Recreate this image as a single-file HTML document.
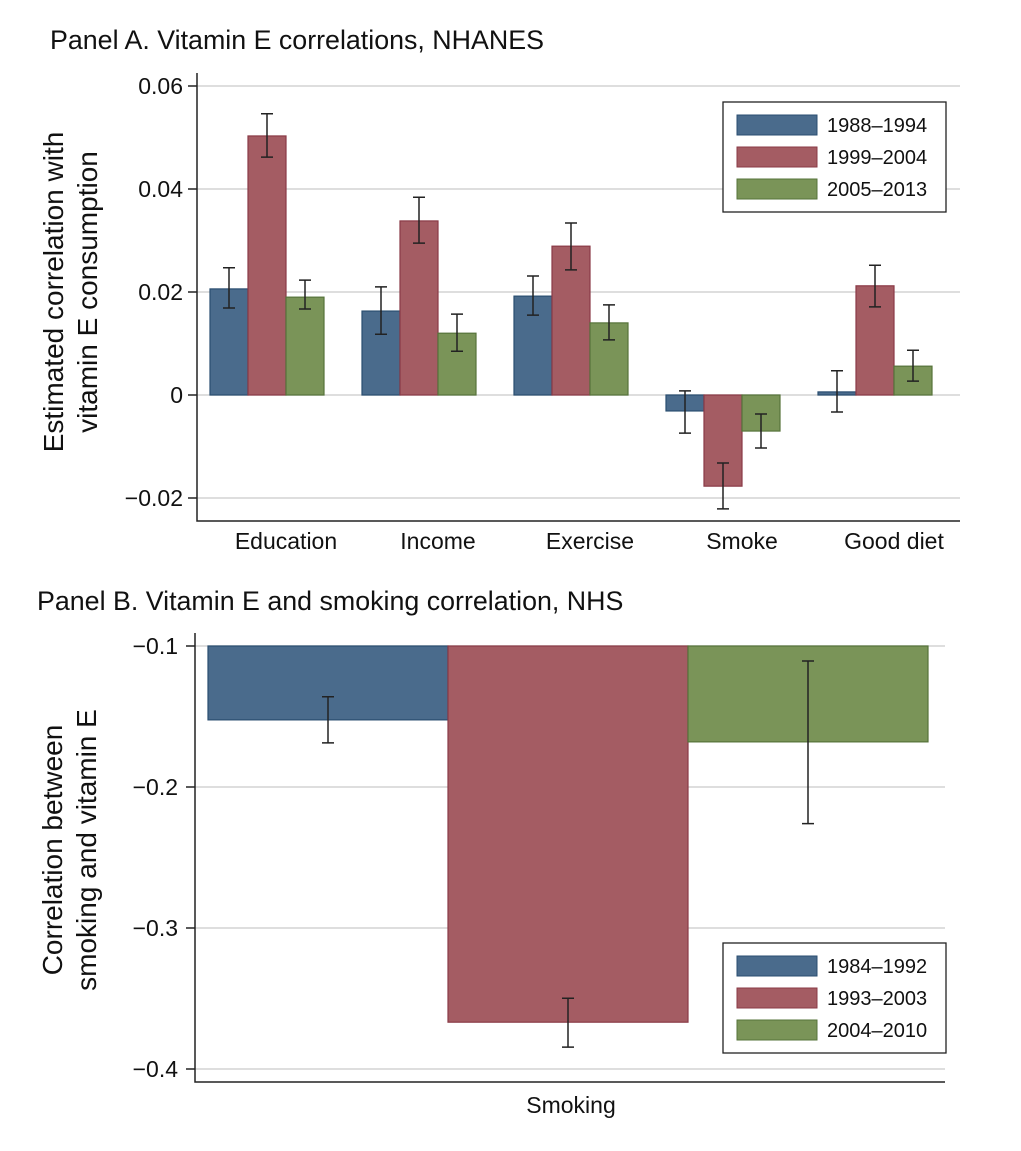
<!DOCTYPE html>
<html><head><meta charset="utf-8"><style>
body{margin:0;background:#fff}
svg text{font-family:"Liberation Sans",Arial,sans-serif;fill:#111}
</style></head><body>
<svg id="c" width="1021" height="1146" viewBox="0 0 1021 1146" xmlns="http://www.w3.org/2000/svg">
<text x="50" y="49" font-size="26.8">Panel A. Vitamin E correlations, NHANES</text>
<text x="37" y="610" font-size="26.8">Panel B. Vitamin E and smoking correlation, NHS</text>
<g id="ga"></g><g id="gb"></g>
</svg>
<script>
const catsA=["Education","Income","Exercise","Smoke","Good diet"];
const seriesA=["1988–1994","1999–2004","2005–2013"];
const valsA=[[0.0206,0.0163,0.0192,-0.0031,0.0006],[0.0503,0.0338,0.0289,-0.0177,0.0212],[0.0190,0.0120,0.0140,-0.0070,0.0056]];
const loA=[[0.0169,0.0118,0.0155,-0.0074,-0.0033],[0.0462,0.0295,0.0243,-0.0221,0.0171],[0.0167,0.0085,0.0107,-0.0103,0.0027]];
const hiA=[[0.0247,0.0210,0.0231,0.0008,0.0047],[0.0546,0.0384,0.0334,-0.0132,0.0252],[0.0223,0.0157,0.0175,-0.0037,0.0087]];
const ticksA=[0.06,0.04,0.02,0,-0.02];
const tickLabA=["0.06","0.04","0.02","0","−0.02"];
const seriesB=["1984–1992","1993–2003","2004–2010"];
const valsB=[-0.1524,-0.3668,-0.168];
const loB=[-0.1687,-0.3845,-0.226];
const hiB=[-0.136,-0.3498,-0.1106];
const ticksB=[-0.1,-0.2,-0.3,-0.4];
const tickLabB=["−0.1","−0.2","−0.3","−0.4"];
const fills=["#4a6b8c","#a45c63","#7a9458"], strokes=["#2a4e70","#8a3a46","#56733a"];
const NS="http://www.w3.org/2000/svg";
function mk(p,t,a,txt){const e=document.createElementNS(NS,t);for(const k in a)e.setAttribute(k,a[k]);if(txt!==undefined)e.textContent=txt;p.appendChild(e);return e;}
const ga=document.getElementById('ga');
const yA=v=>395-(v/0.02)*103;
ticksA.forEach((t,i)=>{
 let l=mk(ga,'line',{x1:197,x2:960,y1:yA(t),y2:yA(t),stroke:"#d4d4d4","stroke-width":1.5});
 
 let tk=mk(ga,'line',{x1:188,x2:197,y1:yA(t),y2:yA(t),stroke:"#222","stroke-width":1.5});
 
 let tx=mk(ga,'text',{x:183,y:yA(t)+8,"font-size":23,"text-anchor":"end"},tickLabA[i]);
 
});
catsA.forEach((c,ci)=>{
 const gx=210+ci*152;
 for(let s=0;s<3;s++){
  const x=gx+s*38,v=valsA[s][ci];
  let r=mk(ga,'rect',{x:x,y:Math.min(yA(v),yA(0)),width:38,height:Math.abs(yA(v)-yA(0)),fill:fills[s],stroke:strokes[s],"stroke-width":1.2});
  
  const cx=x+19;
  let e=mk(ga,'path',{d:`M${cx-6},${yA(hiA[s][ci])}H${cx+6}M${cx},${yA(hiA[s][ci])}V${yA(loA[s][ci])}M${cx-6},${yA(loA[s][ci])}H${cx+6}`,stroke:"#222","stroke-width":1.5,fill:"none"});
  
 }
 let t=mk(ga,'text',{x:gx+76,y:549,"font-size":23,"text-anchor":"middle"},c);
 
});
let ax=mk(ga,'path',{d:"M197,73V521H960",stroke:"#222","stroke-width":1.5,fill:"none"});

let yt=mk(ga,'text',{transform:"translate(63,292) rotate(-90)","font-size":28,"text-anchor":"middle"});

mk(yt,'tspan',{x:0,dy:0},"Estimated correlation with");mk(yt,'tspan',{x:0,dy:34},"vitamin E consumption");
function legend(g,x,y,labels,name){
 let b=mk(g,'rect',{x:x,y:y,width:223,height:110,fill:"#fff",stroke:"#222","stroke-width":1.3});
 
 labels.forEach((l,i)=>{
  let s=mk(g,'rect',{x:x+14,y:y+13+i*32,width:80,height:20,fill:fills[i],stroke:strokes[i]});
  
  let t=mk(g,'text',{x:x+104,y:y+30+i*32,"font-size":20},l);
  
 });
}
legend(ga,723,102,seriesA,'legend-a');
const gb=document.getElementById('gb');
const yB=v=>646+((-0.1-v)/0.1)*141;
ticksB.forEach((t,i)=>{
 let l=mk(gb,'line',{x1:195,x2:945,y1:yB(t),y2:yB(t),stroke:"#d4d4d4","stroke-width":1.5});
 
 let tk=mk(gb,'line',{x1:186,x2:195,y1:yB(t),y2:yB(t),stroke:"#222","stroke-width":1.5});
 
 let tx=mk(gb,'text',{x:178,y:yB(t)+8,"font-size":23,"text-anchor":"end"},tickLabB[i]);
 
});
valsB.forEach((v,s)=>{
 const x=208+s*240;
 let r=mk(gb,'rect',{x:x,y:yB(-0.1),width:240,height:yB(v)-yB(-0.1),fill:fills[s],stroke:strokes[s],"stroke-width":1.2});
 
 const cx=x+120;
 let e=mk(gb,'path',{d:`M${cx-6},${yB(hiB[s])}H${cx+6}M${cx},${yB(hiB[s])}V${yB(loB[s])}M${cx-6},${yB(loB[s])}H${cx+6}`,stroke:"#222","stroke-width":1.5,fill:"none"});
 
});
let bx=mk(gb,'path',{d:"M195,633V1082H945",stroke:"#222","stroke-width":1.5,fill:"none"});

let xl=mk(gb,'text',{x:571,y:1113,"font-size":23,"text-anchor":"middle"},"Smoking");

let yt2=mk(gb,'text',{transform:"translate(62,850) rotate(-90)","font-size":28,"text-anchor":"middle"});

mk(yt2,'tspan',{x:0,dy:0},"Correlation between");mk(yt2,'tspan',{x:0,dy:34},"smoking and vitamin E");
legend(gb,723,943,seriesB,'legend-b');
</script>
</body></html>
